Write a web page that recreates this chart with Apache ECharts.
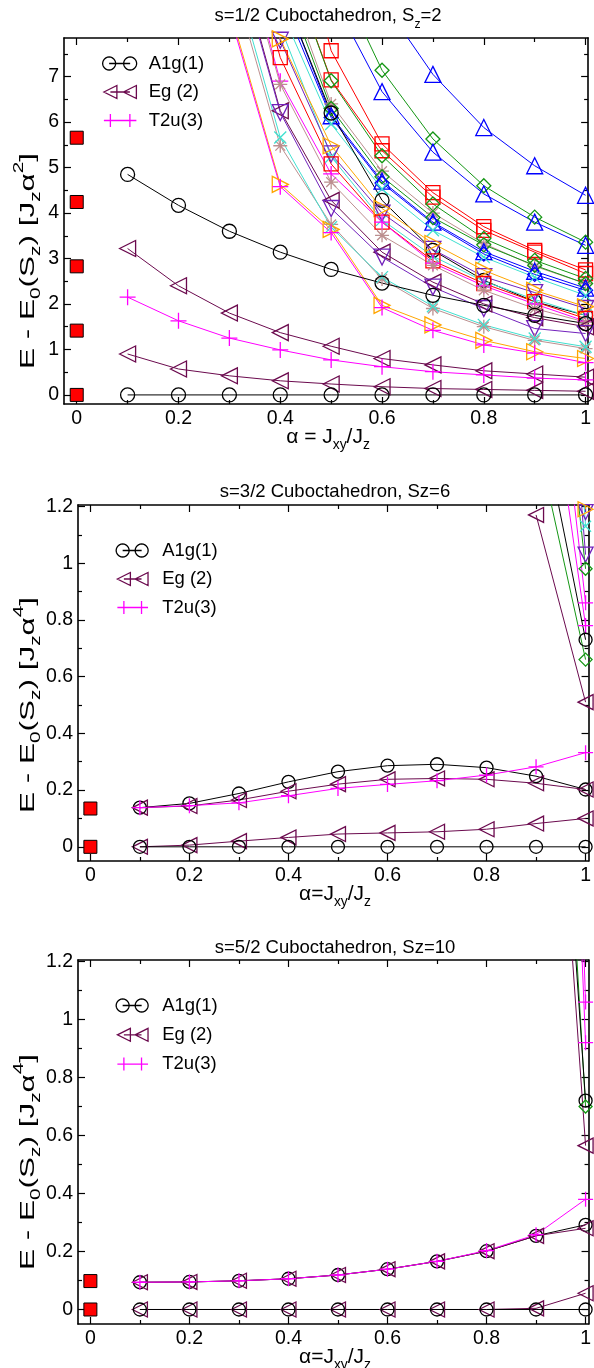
<!DOCTYPE html>
<html>
<head>
<meta charset="utf-8">
<script src="https://cdn.jsdelivr.net/npm/echarts@6/dist/echarts.min.js"></script>
<style>
html, body { margin: 0; padding: 0; background: #fff; }
#chart { width: 594px; height: 1368px; }
</style>
</head>
<body>
<div id="chart"></div>
<script>
// ---- x values ----
const alphaAll = [0.1, 0.2, 0.3, 0.4, 0.5, 0.6, 0.7, 0.8, 0.9, 1.0];
const alphaFrom03 = [0.3, 0.4, 0.5, 0.6, 0.7, 0.8, 0.9, 1.0];
const alphaFrom05 = [0.5, 0.6, 0.7, 0.8, 0.9, 1.0];
const alphaFrom06 = [0.6, 0.7, 0.8, 0.9, 1.0];
const alphaLast2 = [0.9, 1.0];
const alphaZero = [0, 0, 0, 0, 0];

// ---- tick labels ----
const xTicks = [0, 0.2, 0.4, 0.6, 0.8, 1];
const xMinor = [0.1, 0.3, 0.5, 0.7, 0.9];
const yTicksP1 = [0, 1, 2, 3, 4, 5, 6, 7];
const yMinorP1 = [0.5, 1.5, 2.5, 3.5, 4.5, 5.5, 6.5, 7.5];
const yTicksP23 = [0, 0.2, 0.4, 0.6, 0.8, 1, 1.2];
const yMinorP23 = [0.1, 0.3, 0.5, 0.7, 0.9, 1.1];

// ---- s=1/2, Sz=2 ----
const p1Squares = [0, 1.414, 2.828, 4.243, 5.657];
const p1A1gLow = [0, 0, 0, 0, 0, 0, 0, 0, 0, 0];
const p1A1gHigh = [4.85, 4.17, 3.6, 3.14, 2.76, 2.46, 2.19, 1.97, 1.75, 1.57];
const p1EgLow = [0.9, 0.57, 0.42, 0.31, 0.24, 0.18, 0.14, 0.12, 0.10, 0.08];
const p1EgHigh = [3.22, 2.4, 1.8, 1.37, 1.07, 0.80, 0.66, 0.53, 0.46, 0.39];
const p1T2uLow = [2.15, 1.63, 1.25, 0.99, 0.77, 0.62, 0.51, 0.44, 0.37, 0.33];
const p1s01 = [8.4, 4.58, 3.57, 1.92, 1.42, 1.10, 0.92, 0.71];
const p1s02 = [8.5, 4.63, 3.64, 1.97, 1.54, 1.20, 0.95, 0.80];
const p1s03 = [9.6, 5.66, 3.69, 2.59, 1.95, 1.54, 1.24, 1.06];
const p1s04 = [9.4, 5.48, 3.75, 2.55, 1.90, 1.50, 1.20, 1.02];
const p1s05 = [10.2, 6.21, 4.10, 3.03, 2.37, 1.90, 1.46, 1.35];
const p1s06 = [10.3, 6.25, 4.28, 3.14, 2.48, 2.00, 1.70, 1.50];
const p1s07 = [10.8, 6.83, 4.68, 3.51, 2.85, 2.30, 1.90, 1.60];
const p1s08 = [11.0, 6.90, 4.86, 3.80, 2.90, 2.40, 2.00, 1.62];
const p1s09 = [11.5, 7.42, 5.08, 3.80, 2.95, 2.45, 2.05, 1.68];
const p1s10 = [12.0, 7.83, 5.48, 4.10, 3.33, 2.74, 2.30, 1.94];
const p1s11 = [12.2, 7.80, 5.30, 4.00, 3.20, 2.60, 2.25, 1.90];
const p1s12 = [12.5, 8.10, 5.24, 3.85, 3.05, 2.50, 2.10, 1.75];
const p1s13 = [14.0, 9.00, 6.20, 4.28, 3.18, 2.52, 2.05, 1.75];
const p1s14 = [13.5, 8.50, 5.96, 4.53, 3.62, 3.03, 2.59, 2.19];
const p1s15 = [14.0, 8.80, 6.10, 4.66, 3.77, 3.10, 2.65, 2.30];
const p1s16 = [14.2, 9.00, 6.14, 4.70, 3.80, 3.15, 2.72, 2.35];
const p1s17 = [14.5, 9.30, 6.30, 4.80, 3.90, 3.30, 2.85, 2.45];
const p1s18 = [15.0, 9.50, 6.40, 4.92, 4.00, 3.33, 2.83, 2.45];
const p1s19 = [16.0, 10.0, 6.91, 5.26, 4.20, 3.44, 2.96, 2.56];
const p1s20 = [16.0, 10.0, 6.93, 5.37, 4.35, 3.62, 3.14, 2.67];
const p1s21 = [19.0, 12.0, 7.57, 5.52, 4.45, 3.70, 3.18, 2.75];
const p1r1 = [9.5, 7.14, 5.63, 4.60, 3.91, 3.36];
const p1r2 = [8.8, 6.67, 5.34, 4.42, 3.80, 3.29];
const p1r3 = [8.67, 7.05, 5.88, 5.04, 4.39];

// ---- s=3/2, Sz=6 ----
const p2Squares = [0, 0.135];
const p2A1gLow = [0, 0, 0, 0, 0, 0, 0, 0, 0, 0];
const p2A1gHigh = [0.138, 0.153, 0.188, 0.229, 0.265, 0.286, 0.291, 0.279, 0.249, 0.202];
const p2EgLow = [0, 0.006, 0.02, 0.033, 0.045, 0.049, 0.053, 0.062, 0.082, 0.1];
const p2EgHigh = [0.138, 0.144, 0.165, 0.196, 0.221, 0.238, 0.241, 0.238, 0.224, 0.202];
const p2T2u = [0.138, 0.145, 0.155, 0.18, 0.206, 0.22, 0.233, 0.253, 0.282, 0.332];
const p2e1 = [1.17, 0.51];
const p2e2 = [1.45, 0.66];
const p2e3 = [1.6, 0.73];
const p2e4 = [2.0, 0.78];
const p2e5 = [2.4, 0.86];
const p2e6 = [2.6, 0.98];
const p2e7 = [3.2, 1.03];
const p2e8 = [3.5, 1.19];
const p2e9 = [3.6, 1.13];
const p2e10 = [4.0, 1.18];

// ---- s=5/2, Sz=10 ----
const p3Squares = [0, 0.098];
const p3A1gLow = [0, 0, 0, 0, 0, 0, 0, 0, 0, 0];
const p3EgLow = [0, 0, 0, 0, 0, 0, 0, 0, 0.004, 0.056];
const p3A1gHigh = [0.094, 0.095, 0.099, 0.106, 0.119, 0.139, 0.166, 0.201, 0.254, 0.292];
const p3EgHigh = [0.094, 0.095, 0.099, 0.106, 0.119, 0.139, 0.166, 0.201, 0.254, 0.28];
const p3T2u = [0.094, 0.095, 0.099, 0.106, 0.119, 0.139, 0.166, 0.203, 0.258, 0.38];
const p3e1 = [3.0, 0.565];
const p3e2 = [3.2, 0.72];
const p3e3 = [3.6, 0.70];
const p3e4 = [6.0, 1.06];
const p3e5 = [5.0, 0.92];

// ---- styles ----
const FONT = '"Liberation Sans", Arial, sans-serif';
const COL = {
    black: '#000000', red: '#ff0000', green: '#149614', blue: '#0000ff',
    maroon: '#6b0a4e', magenta: '#ff00ff', orange: '#ffa500', turq: '#40e0d0',
    tan: '#bc8f8f', indigo: '#7221bc'
};
const SYM = {
    circle: 'circle',
    square: 'rect',
    diamond: 'diamond',
    up: 'triangle',
    down: 'path://M0,0L10,0L5,10Z',
    left: 'path://M0,5L10,0L10,10Z',
    right: 'path://M10,5L0,0L0,10Z',
    plus: 'path://M0,5L10,5M5,0L5,10',
    cross: 'path://M0,0L10,10M10,0L0,10',
    star: 'path://M5,0L5,10M0,5L10,5M1.5,1.5L8.5,8.5M8.5,1.5L1.5,8.5'
};

const panels = [
    { left: 64, top: 38, width: 529, height: 366, xMin: -0.025, xMax: 1.005, yMin: -0.2, yMax: 7.85,
      yTicks: yTicksP1, yMinor: yMinorP1, size: 14, legendLeft: 102, legendTop: 54, legendGap: 9.5,
      iconGap: 21, textX: 148 },
    { left: 78, top: 505, width: 515, height: 356, xMin: -0.025, xMax: 1.006, yMin: -0.05, yMax: 1.205,
      yTicks: yTicksP23, yMinor: yMinorP23, size: 13, legendLeft: 115.5, legendTop: 541, legendGap: 9.5,
      iconGap: 19, textX: 161.5 },
    { left: 78, top: 960, width: 515, height: 364, xMin: -0.025, xMax: 1.006, yMin: -0.05, yMax: 1.205,
      yTicks: yTicksP23, yMinor: yMinorP23, size: 13, legendLeft: 115.5, legendTop: 996, legendGap: 10.3,
      iconGap: 19, textX: 161.5 }
];

const curves = [
    // panel 1
    [alphaFrom03, p1s21, 'red', 'square', 0], [alphaFrom03, p1s20, 'red', 'square', 0],
    [alphaFrom03, p1s19, 'green', 'diamond', 0], [alphaFrom03, p1s18, 'tan', 'star', 0],
    [alphaFrom03, p1s17, 'green', 'diamond', 0], [alphaFrom03, p1s16, 'blue', 'up', 0],
    [alphaFrom03, p1s15, 'blue', 'diamond', 0], [alphaFrom03, p1s14, 'turq', 'cross', 0],
    [alphaFrom03, p1s13, 'black', 'circle', 0], [alphaFrom03, p1s12, 'turq', 'cross', 0],
    [alphaFrom03, p1s11, 'indigo', 'down', 0], [alphaFrom03, p1s10, 'orange', 'right', 0],
    [alphaFrom03, p1s09, 'red', 'square', 0], [alphaFrom03, p1s08, 'magenta', 'plus', 0],
    [alphaFrom03, p1s07, 'tan', 'star', 0], [alphaFrom03, p1s06, 'maroon', 'left', 0],
    [alphaFrom03, p1s05, 'indigo', 'down', 0], [alphaFrom03, p1s04, 'tan', 'star', 0],
    [alphaFrom03, p1s03, 'turq', 'cross', 0], [alphaFrom03, p1s02, 'orange', 'right', 0],
    [alphaFrom03, p1s01, 'magenta', 'plus', 0],
    [alphaFrom05, p1r1, 'green', 'diamond', 0], [alphaFrom05, p1r2, 'blue', 'up', 0],
    [alphaFrom06, p1r3, 'blue', 'up', 0],
    [alphaAll, p1A1gHigh, 'black', 'circle', 0], [alphaAll, p1EgHigh, 'maroon', 'left', 0],
    [alphaAll, p1T2uLow, 'magenta', 'plus', 0, 'T2u(3)'], [alphaAll, p1EgLow, 'maroon', 'left', 0, 'Eg (2)'],
    [alphaAll, p1A1gLow, 'black', 'circle', 0, 'A1g(1)'],
    // panel 2
    [alphaLast2, p2e10, 'indigo', 'down', 1], [alphaLast2, p2e9, 'turq', 'cross', 1],
    [alphaLast2, p2e8, 'orange', 'right', 1], [alphaLast2, p2e7, 'indigo', 'down', 1],
    [alphaLast2, p2e6, 'green', 'diamond', 1], [alphaLast2, p2e5, 'magenta', 'plus', 1],
    [alphaLast2, p2e4, 'magenta', 'plus', 1], [alphaLast2, p2e3, 'black', 'circle', 1],
    [alphaLast2, p2e2, 'green', 'diamond', 1], [alphaLast2, p2e1, 'maroon', 'left', 1],
    [alphaAll, p2A1gHigh, 'black', 'circle', 1], [alphaAll, p2EgHigh, 'maroon', 'left', 1],
    [alphaAll, p2T2u, 'magenta', 'plus', 1, 'T2u(3)'], [alphaAll, p2EgLow, 'maroon', 'left', 1, 'Eg (2)'],
    [alphaAll, p2A1gLow, 'black', 'circle', 1, 'A1g(1)'],
    // panel 3
    [alphaLast2, p3e4, 'magenta', 'plus', 2], [alphaLast2, p3e5, 'magenta', 'plus', 2],
    [alphaLast2, p3e3, 'green', 'diamond', 2], [alphaLast2, p3e2, 'black', 'circle', 2],
    [alphaLast2, p3e1, 'maroon', 'left', 2],
    [alphaAll, p3A1gHigh, 'black', 'circle', 2], [alphaAll, p3EgHigh, 'maroon', 'left', 2],
    [alphaAll, p3T2u, 'magenta', 'plus', 2, 'T2u(3)'], [alphaAll, p3EgLow, 'maroon', 'left', 2, 'Eg (2)'],
    [alphaAll, p3A1gLow, 'black', 'circle', 2, 'A1g(1)']
];
const squareSets = [p1Squares, p2Squares, p3Squares];

function axisSet(dim, gi, min, max, majors, minors) {
    const sides = dim === 'x' ? ['bottom', 'top'] : ['left', 'right'];
    const out = [];
    sides.forEach((pos, si) => {
        [majors, minors].forEach((vals, mi) => {
            out.push({
                type: 'value', gridIndex: gi, position: pos, min: min, max: max,
                axisLine: { show: mi === 0, onZero: false, lineStyle: { color: '#000', width: 1.6 } },
                axisTick: { show: true, inside: true, length: mi === 0 ? 7 : 4, customValues: vals,
                            lineStyle: { color: '#000', width: 1.2 } },
                axisLabel: (si === 0 && mi === 0) ? {
                    show: true, customValues: vals, fontSize: 19.5, fontFamily: FONT, color: '#000', margin: 5,
                    formatter: v => String(Math.round(v * 100) / 100)
                } : { show: false },
                splitLine: { show: false },
                silent: true
            });
        });
    });
    return out;
}

function ring(cx, cy, r) {
    let d = '';
    for (let i = 0; i <= 24; i++) {
        const a = i / 24 * Math.PI * 2;
        d += (i ? 'L' : 'M') + (cx + r * Math.cos(a)).toFixed(2) + ',' + (cy + r * Math.sin(a)).toFixed(2);
    }
    return d + 'Z';
}
// two markers joined by a line, padded on the right so the text lands at textX
function legendIcon(kind, gap, w) {
    const r = 6.5, c1 = r, c2 = r + gap;
    const mark = (cx) => {
        if (kind === 'circle') return ring(cx, r, r);
        if (kind === 'left') return `M${cx - 7},${r}L${cx + 7},${r - 7}L${cx + 7},${r + 7}Z`;
        return `M${cx - 7},${r}L${cx + 7},${r}M${cx},${r - 7}L${cx},${r + 7}`;
    };
    return 'path://' + mark(c1) + mark(c2) + `M${c1},${r}L${c2},${r}M${w},${r}L${w},${r}`;
}

const grid = [], xAxis = [], yAxis = [], legend = [], series = [];
panels.forEach((p, gi) => {
    grid.push({ left: p.left, top: p.top, width: p.width, height: p.height, containLabel: false });
    xAxis.push(...axisSet('x', gi, p.xMin, p.xMax, xTicks, xMinor));
    yAxis.push(...axisSet('y', gi, p.yMin, p.yMax, p.yTicks, p.yMinor));
    const items = [['A1g(1)', 'circle', COL.black], ['Eg (2)', 'left', COL.maroon], ['T2u(3)', 'plus', COL.magenta]];
    const w = p.textX - 5 - p.legendLeft;
    legend.push({
        orient: 'vertical', left: p.legendLeft, top: p.legendTop, itemGap: p.legendGap, padding: 0,
        itemWidth: w, itemHeight: 13, selectedMode: false,
        textStyle: { fontSize: 18.5, fontFamily: FONT, color: '#000' },
        data: items.map(([name, kind, color]) => ({
            name: name, icon: legendIcon(kind, p.iconGap, w),
            itemStyle: { color: 'transparent', borderColor: color, borderWidth: 1.3 }
        }))
    });
    series.push({
        type: 'line', xAxisIndex: gi * 4, yAxisIndex: gi * 4, silent: true, z: 4,
        data: squareSets[gi].map((v, i) => [alphaZero[i], v]),
        symbol: 'rect', symbolSize: 13,
        lineStyle: { width: 0, opacity: 0 },
        itemStyle: { color: COL.red, borderColor: '#000', borderWidth: 1 }
    });
});

curves.forEach(([xs, ys, col, sym, gi, name]) => {
    const s = panels[gi].size;
    const size = (sym === 'up' || sym === 'down' || sym === 'left' || sym === 'right' || sym === 'plus') ? s + 2 :
                 (sym === 'cross' ? s - 2 : s);
    const sr = {
        type: 'line', xAxisIndex: gi * 4, yAxisIndex: gi * 4, silent: true, z: 3,
        data: xs.map((x, i) => [x, ys[i]]),
        symbol: SYM[sym], symbolSize: size, showAllSymbol: true,
        lineStyle: { color: COL[col], width: 1 },
        itemStyle: { color: 'transparent', borderColor: COL[col], borderWidth: 1.3 },
        emphasis: { disabled: true }
    };
    if (name) sr.name = name;
    series.push(sr);
});

// titles and axis names
const richBase = (size) => ({
    n: { fontSize: size, lineHeight: size + 10, verticalAlign: 'middle', fontFamily: FONT, fill: '#000' },
    s: { fontSize: size * 0.66, lineHeight: size * 0.66, verticalAlign: 'bottom', fontFamily: FONT, fill: '#000' },
    p: { fontSize: size * 0.66, lineHeight: size * 0.66, verticalAlign: 'top', fontFamily: FONT, fill: '#000' }
});
function label(x, y, text, size, rot, sx) {
    return {
        type: 'text', x: x, y: y, rotation: rot || 0, scaleX: sx || 1, silent: true,
        style: { text: text, rich: richBase(size), align: 'center', verticalAlign: 'middle', fill: '#000' }
    };
}
const yName2 = '{n|E - E}{s|0}{n|(S}{s|z}{n|) [J}{s|z}{n|α}{p|2}{n|]}';
const yName4 = '{n|E - E}{s|0}{n|(S}{s|z}{n|) [J}{s|z}{n|α}{p|4}{n|]}';
const graphic = [
    label(328, 16, '{n|s=1/2 Cuboctahedron, S}{s|z}{n|=2}', 18.5),
    label(335, 492, '{n|s=3/2 Cuboctahedron, Sz=6}', 18.5),
    label(335, 948, '{n|s=5/2 Cuboctahedron, Sz=10}', 18.5),
    label(328, 437, '{n|α = J}{s|xy}{n|/J}{s|z}', 21),
    label(335, 894, '{n|α=J}{s|xy}{n|/J}{s|z}', 21),
    label(335, 1357, '{n|α=J}{s|xy}{n|/J}{s|z}', 21),
    label(28, 261, yName2, 21, Math.PI / 2, 1.5),
    label(28, 705, yName4, 21, Math.PI / 2, 1.5),
    label(28, 1162, yName4, 21, Math.PI / 2, 1.5)
];

const chart = echarts.init(document.getElementById('chart'), null, { renderer: 'canvas' });
chart.setOption({
    animation: false,
    backgroundColor: '#ffffff',
    grid: grid,
    xAxis: xAxis,
    yAxis: yAxis,
    legend: legend,
    series: series,
    graphic: graphic
});
</script>
</body>
</html>
